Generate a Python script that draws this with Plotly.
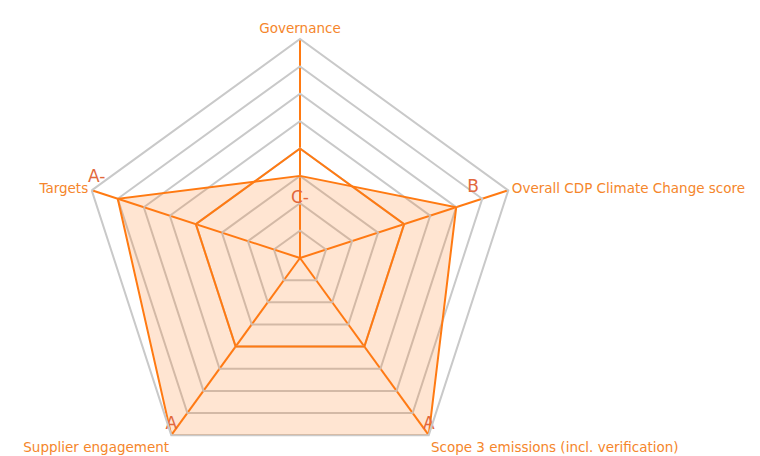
import plotly.graph_objects as go

categories = ["Governance", "Overall CDP Climate Change score",
              "Scope 3 emissions (incl. verification)", "Supplier engagement", "Targets"]
grade_scale = ["D-", "D", "C-", "C", "B-", "B", "A-", "A"]
company_grades = ["C-", "B", "A", "A", "A-"]
benchmark_values = [4, 4, 4, 4, 4]

company_values = [grade_scale.index(g) + 1 for g in company_grades]

line_orange = "#FF7A12"
label_orange = "#F5862B"
grade_red = "#E2683C"
grid_gray = "#C9C9C9"

# close the polygons
theta_c = categories + categories[:1]
fig = go.Figure()

fig.add_trace(go.Scatterpolar(
    r=company_values + company_values[:1],
    theta=theta_c,
    mode="lines+markers+text",
    text=company_grades + [""],
    textposition=["bottom center", "top right", "top center", "top center", "top left", "top center"],
    textfont=dict(family="DejaVu Sans", size=17, color=grade_red),
    # invisible markers only push the grade labels away from the vertices
    marker=dict(size=[22, 16, 1, 1, 18, 0], color="rgba(0,0,0,0)",
                line=dict(width=0, color="rgba(0,0,0,0)")),
    fill="toself",
    fillcolor="rgba(255,127,30,0.2)",
    line=dict(color=line_orange, width=2),
    showlegend=False,
    hoverinfo="skip",
))

fig.add_trace(go.Scatterpolar(
    r=benchmark_values + benchmark_values[:1],
    theta=theta_c,
    mode="lines",
    line=dict(color=line_orange, width=2),
    showlegend=False,
    hoverinfo="skip",
))

fig.update_layout(
    width=752,
    height=470,
    margin=dict(l=73, r=241, t=30, b=0),
    paper_bgcolor="white",
    font=dict(family="DejaVu Sans", size=13.5, color=label_orange),
    polar=dict(
        bgcolor="white",
        gridshape="linear",
        radialaxis=dict(range=[0, 8], dtick=1, showticklabels=False, ticks="",
                        showline=False, gridcolor=grid_gray, gridwidth=2, angle=90),
        angularaxis=dict(direction="clockwise", rotation=90, ticks="",
                         gridcolor=line_orange, gridwidth=2,
                         linecolor=grid_gray, linewidth=2,
                         tickfont=dict(family="DejaVu Sans", size=13.5, color=label_orange)),
    ),
)

fig.write_html("out.html")
